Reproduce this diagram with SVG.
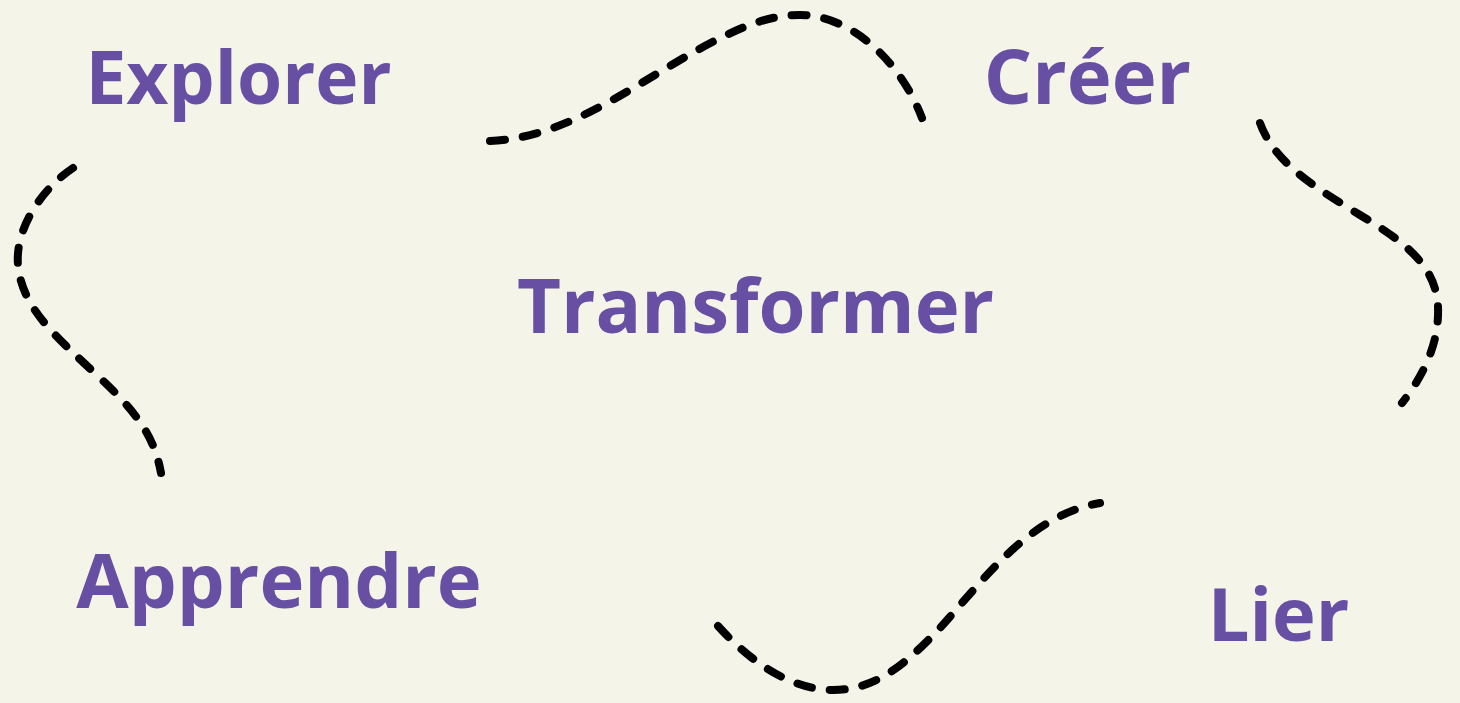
<svg xmlns="http://www.w3.org/2000/svg" width="1460" height="703" viewBox="0 0 1460 703">
<style>
.lbl{font-family:"Open Sans","Noto Sans",sans-serif;font-weight:700;font-size:76px;fill:#6750a4;text-anchor:middle}
.con{fill:none;stroke:#000;stroke-width:8;stroke-linecap:round;stroke-dasharray:15 18}
</style>
<rect width="1460" height="703" fill="#f4f4e8"/>
<g id="connectors">
<path class="con" d="M490,141 C560,138 620,95 680,60 C740,25 770,15 800,15 C850,15 900,60 922,118"/>
<path class="con" d="M73,168 C40,190 15,230 18,265 C22,310 60,340 100,378 C140,415 155,440 161,473"/>
<path class="con" d="M1260,123 C1275,165 1320,190 1360,215 C1410,245 1440,270 1438,315 C1437,350 1420,380 1402,403"/>
<path class="con" d="M718,626 C755,667 795,690 833,690 C875,690 905,665 940,628 C985,578 1030,515 1100,503"/>
</g>
<g id="explorer"><text class="lbl" x="238.5" y="103.5" style="font-size:73px">Explorer</text></g>
<g id="creer"><text class="lbl" x="1087.5" y="104">Créer</text></g>
<g id="transformer"><text class="lbl" x="755.5" y="333">Transformer</text></g>
<g id="apprendre"><text class="lbl" x="279" y="608">Apprendre</text></g>
<g id="lier"><text class="lbl" x="1278.5" y="641" style="font-size:74px">Lier</text></g>
</svg>
